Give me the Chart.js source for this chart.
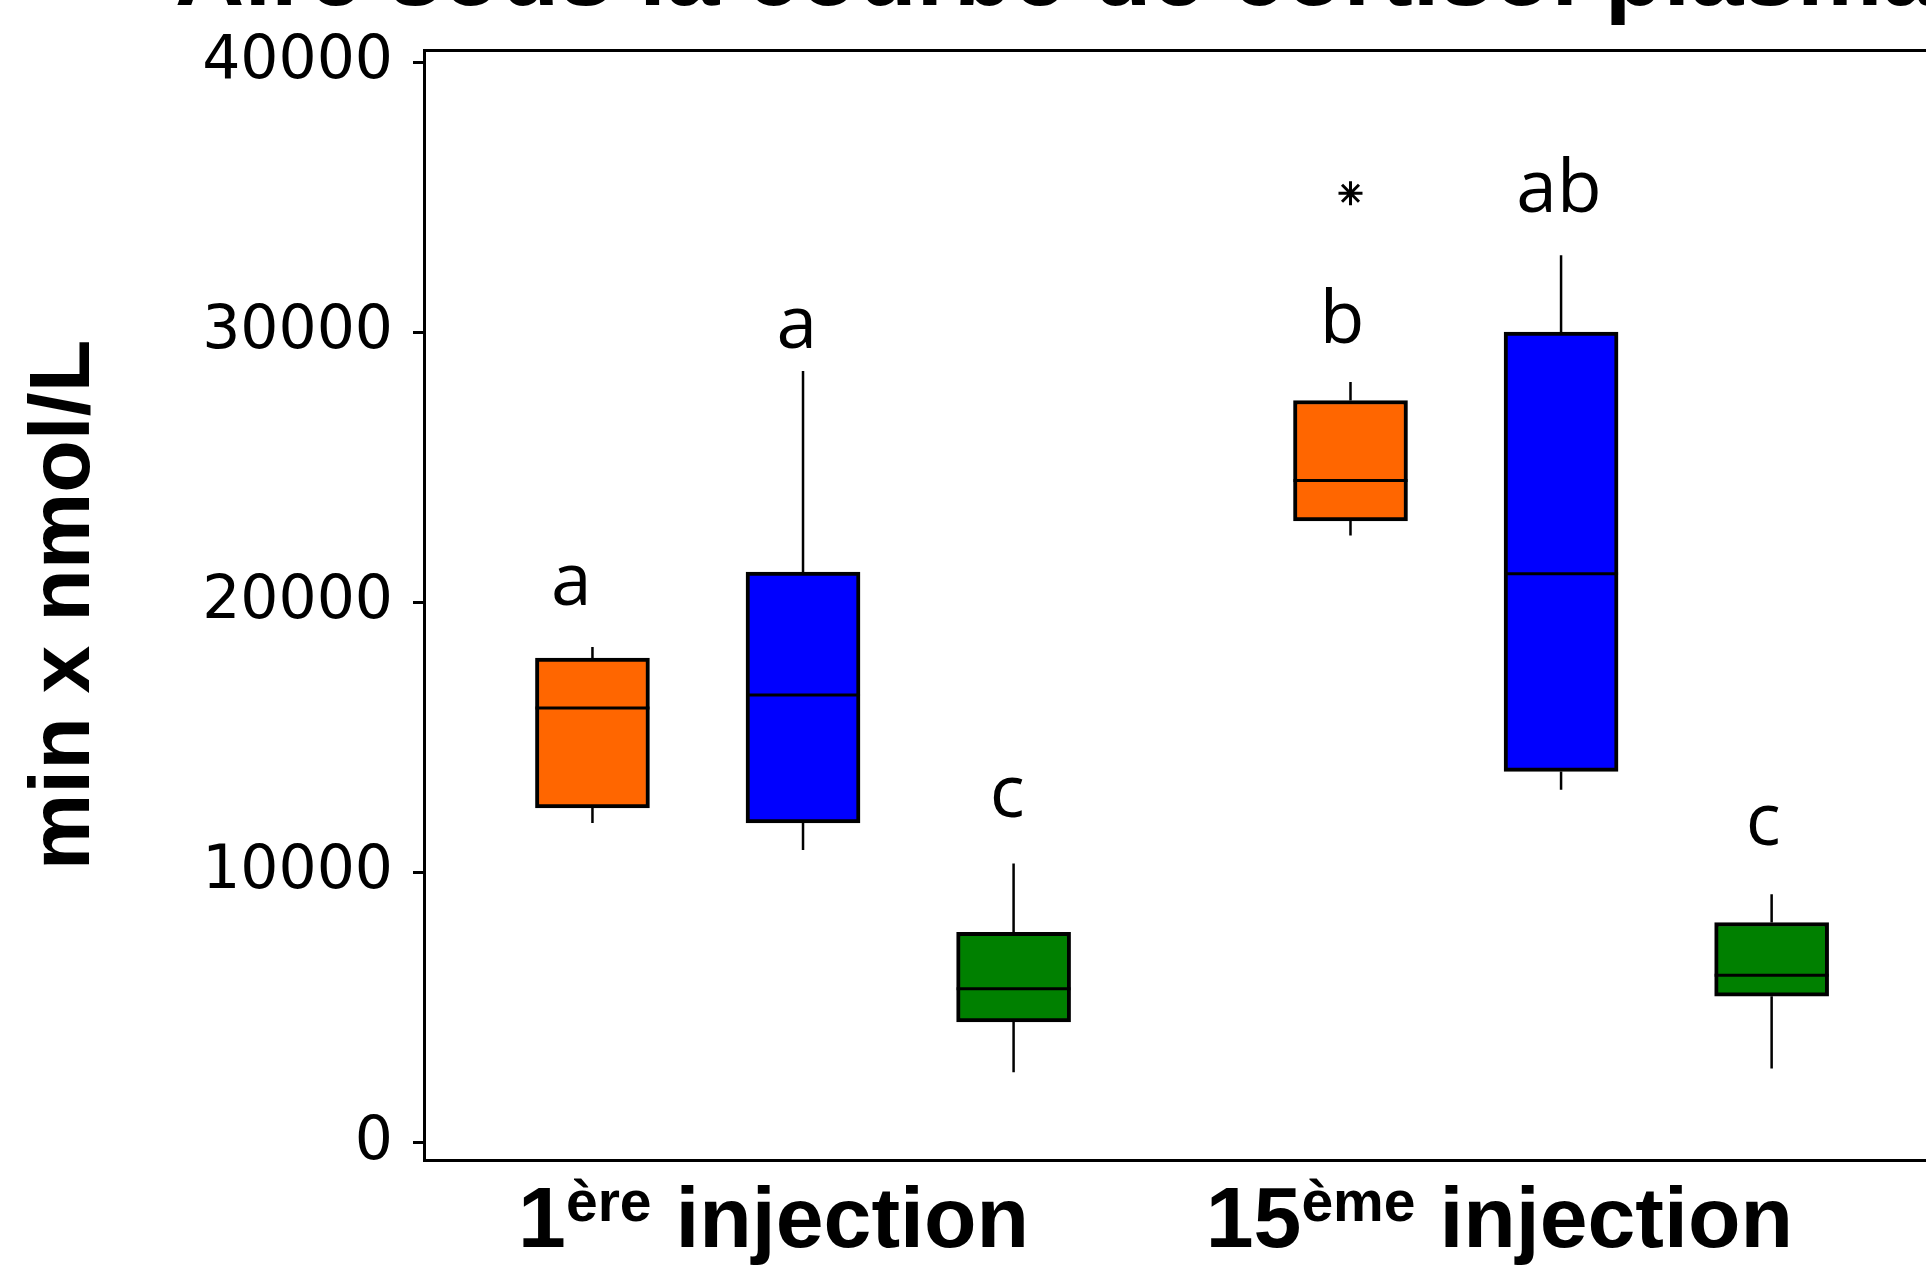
<!DOCTYPE html>
<html>
<head>
<meta charset="utf-8">
<script src="https://cdn.jsdelivr.net/npm/chart.js@4.4.1/dist/chart.umd.min.js"></script>
<style>
  html, body { margin: 0; padding: 0; background: #fff; overflow: hidden; width: 1926px; height: 1269px; }
  #wrap { position: absolute; left: 0; top: -69px; }
</style>
</head>
<body>
<div id="wrap"><canvas id="c" width="2340" height="1338"></canvas></div>
<script>
// ---- data ----
const chartTitle = 'Aire sous la courbe de cortisol plasmatique';
const yAxisTitle = 'min x nmol/L';
const categories = ['1ère injection', '15ème injection'];
const categoryPos = [1.86, 5.307];            // x-position of each category label (x units)
const yTickValues = [0, 10000, 20000, 30000, 40000];

const boxX        = [1, 2, 3, 4.6, 5.6, 6.6];
const boxColors   = ['#FF6600', '#0000FF', '#008000', '#FF6600', '#0000FF', '#008000'];
const whiskerLow  = [11841, 10842, 2616, 22479, 13070, 2753];
const q1          = [12396, 11841, 4477, 23023, 13750, 5432];
const median      = [16096, 16577, 5706, 24522, 21069, 6205];
const q3          = [17946, 21128, 7797, 27478, 30009, 8159];
const whiskerHigh = [18353, 28566, 10342, 28159, 32858, 9206];

const outlierX = [4.6];
const outlierY = [35150];

const letters = ['a', 'a', 'c', 'b', 'ab', 'c'];
const letterX = [0.90, 1.97, 2.97, 4.56, 5.59, 6.56];
const letterY = [19907, 29432, 12070, 29602, 34450, 11027];

// ---- chart ----
const boxData = boxX.map((x, i) => ({ x: x, y: [q1[i], q3[i]] }));
const outlierData = outlierX.map((x, i) => ({ x: x, y: outlierY[i] }));

const boxExtras = {
  id: 'boxExtras',
  afterDatasetsDraw(chart) {
    const ctx = chart.ctx;
    const xS = chart.scales.x, yS = chart.scales.y;
    const meta = chart.getDatasetMeta(0);
    ctx.save();
    ctx.strokeStyle = '#000';
    ctx.lineCap = 'butt';
    meta.data.forEach((bar, i) => {
      const cx = bar.x;
      const half = bar.width / 2;
      const yLo = yS.getPixelForValue(whiskerLow[i]);
      const yHi = yS.getPixelForValue(whiskerHigh[i]);
      const yQ1 = yS.getPixelForValue(q1[i]);
      const yQ3 = yS.getPixelForValue(q3[i]);
      const yMed = yS.getPixelForValue(median[i]);
      ctx.lineWidth = 2.5;
      ctx.beginPath();
      ctx.moveTo(cx, yQ3); ctx.lineTo(cx, yHi);
      ctx.moveTo(cx, yQ1); ctx.lineTo(cx, yLo);
      ctx.stroke();
      ctx.lineWidth = 3;
      ctx.beginPath();
      ctx.moveTo(cx - half, yMed); ctx.lineTo(cx + half, yMed);
      ctx.stroke();
    });
    ctx.fillStyle = '#000';
    ctx.font = '73px "Open Sans"';
    ctx.textAlign = 'center';
    ctx.textBaseline = 'alphabetic';
    letters.forEach((t, i) => {
      ctx.fillText(t, xS.getPixelForValue(letterX[i]), yS.getPixelForValue(letterY[i]));
    });
    ctx.restore();
  },
  afterDraw(chart) {
    const ctx = chart.ctx;
    const xS = chart.scales.x;
    const base = chart.chartArea.bottom + 87;
    const mainFont = 'bold 86px "Liberation Sans"';
    const supFont = 'bold 57px "Liberation Sans"';
    ctx.save();
    ctx.fillStyle = '#000';
    ctx.textBaseline = 'alphabetic';
    ctx.textAlign = 'left';
    categories.forEach((label, i) => {
      const m = label.match(/^(\d+)(\S*?)(\s.*)$/);
      const parts = m ? [m[1], m[2], m[3]] : [label, '', ''];
      ctx.font = mainFont; const w1 = ctx.measureText(parts[0]).width;
      ctx.font = supFont; const w2 = ctx.measureText(parts[1]).width;
      ctx.font = mainFont; const w3 = ctx.measureText(parts[2]).width;
      let x = xS.getPixelForValue(categoryPos[i]) - (w1 + w2 + w3) / 2;
      ctx.font = mainFont; ctx.fillText(parts[0], x, base); x += w1;
      ctx.font = supFont; ctx.fillText(parts[1], x, base - 26); x += w2;
      ctx.font = mainFont; ctx.fillText(parts[2], x, base);
    });
    ctx.restore();
  }
};

new Chart(document.getElementById('c'), {
  type: 'bar',
  data: {
    datasets: [
      {
        type: 'bar',
        data: boxData,
        backgroundColor: boxColors,
        borderColor: '#000',
        borderWidth: 4,
        borderSkipped: false,
        barThickness: 114,
        grouped: false
      },
      {
        type: 'scatter',
        data: outlierData,
        pointStyle: 'star',
        radius: 12,
        borderWidth: 3,
        borderColor: '#000',
        backgroundColor: '#000'
      }
    ]
  },
  plugins: [boxExtras],
  options: {
    responsive: false,
    devicePixelRatio: 1,
    animation: false,
    layout: { padding: 0 },
    plugins: {
      legend: { display: false },
      tooltip: { enabled: false },
      title: {
        display: true,
        text: chartTitle,
        color: '#000',
        font: { family: 'Liberation Sans', size: 96, weight: 'bold', lineHeight: 1 },
        padding: { top: 0, bottom: 23 }
      }
    },
    scales: {
      x: {
        type: 'linear',
        position: 'bottom',
        offset: false,
        min: 0.2,
        max: 9.228,
        grid: { display: false, drawTicks: false, offset: false },
        ticks: { display: false },
        border: { display: true, color: '#000', width: 3 },
        afterFit(s) { s.height = 109; }
      },
      x2: {
        type: 'linear',
        position: 'top',
        offset: false,
        min: 0.2,
        max: 9.228,
        grid: { display: false, drawTicks: false, offset: false },
        ticks: { display: false },
        border: { display: true, color: '#000', width: 3 },
        afterFit(s) { s.height = 0; }
      },
      y: {
        type: 'linear',
        position: 'left',
        min: -630,
        max: 40450,
        afterBuildTicks(s) { s.ticks = yTickValues.map(v => ({ value: v })); },
        grid: { display: true, drawOnChartArea: false, drawTicks: true, tickLength: 11, tickColor: '#000', tickWidth: 3, color: '#000' },
        border: { display: true, color: '#000', width: 3 },
        ticks: {
          color: '#000',
          padding: 20,
          labelOffset: 0,
          font: { family: 'DejaVu Sans', size: 60 },
          callback: v => String(v)
        },
        title: {
          display: true,
          text: yAxisTitle,
          color: '#000',
          font: { family: 'Liberation Sans', size: 86, weight: 'bold', lineHeight: 1 },
          padding: { top: 22, bottom: 0 }
        },
        afterFit(s) { s.width = 424; }
      }
    }
  }
});
</script>
</body>
</html>
